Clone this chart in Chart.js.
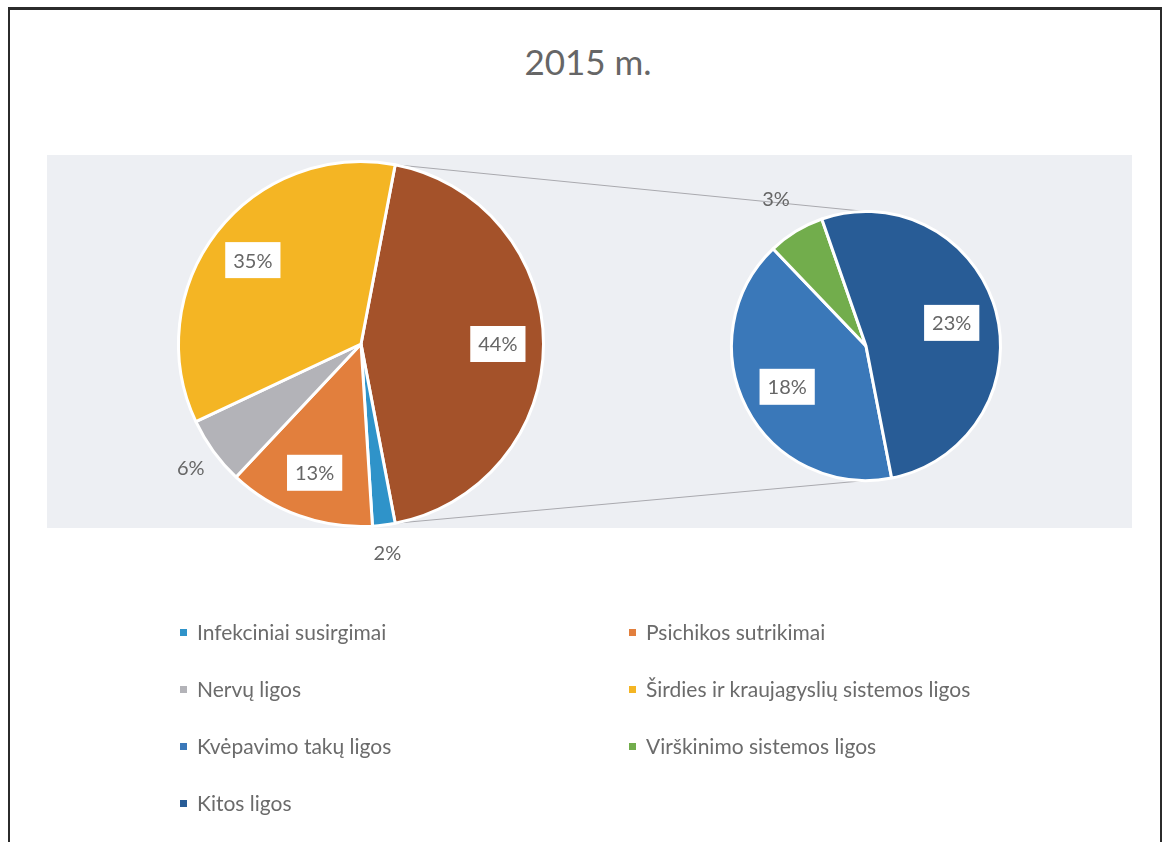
<!DOCTYPE html>
<html>
<head>
<meta charset="utf-8">
<script src="https://cdn.jsdelivr.net/npm/chart.js@4/dist/chart.umd.min.js"></script>
<style>
  body { margin: 0; background: #fff; width: 1164px; height: 842px; overflow: hidden; position: relative; font-family: Lato, "Open Sans", sans-serif; }
  #frame { position: absolute; left: 8px; top: 7px; width: 1150px; height: 860px; border: 2px solid #2b2b2b; border-top-width: 3px; }
  #band { position: absolute; left: 47px; top: 155px; width: 1085px; height: 373px; background: #edeff3; }
  #title { position: absolute; left: 0; width: 1176px; top: 40px; text-align: center; font-size: 35px; color: #666; }
  canvas { position: absolute; }
  #legend { position: absolute; left: 0; top: 0; }
  .item { position: absolute; font-size: 21px; color: #6b6b6b; white-space: nowrap; line-height: 24px; }
  .item i { display: inline-block; width: 7px; height: 7px; margin-right: 10px; vertical-align: 4px; }
</style>
</head>
<body>
<div id="frame"></div>
<div id="band"></div>
<div id="title">2015 m.</div>
<canvas id="lines" width="1164" height="842" style="left:0;top:0"></canvas>
<canvas id="mainPie" width="480" height="480" style="left:121px;top:104px"></canvas>
<canvas id="subPie" width="360" height="360" style="left:686px;top:166px"></canvas>
<div id="legend"></div>
<script>
// main pie categories (%)
const mainLabels = ['Infekciniai susirgimai', 'Psichikos sutrikimai', 'Nervų ligos', 'Širdies ir kraujagyslių sistemos ligos'];
const mainValues = [2, 13, 6, 35];
const mainColors = ['#2f93c9', '#e27f3d', '#b3b3b8', '#f4b524'];

// secondary pie (split of the brown slice)
const subLabels = ['Kvėpavimo takų ligos', 'Virškinimo sistemos ligos', 'Kitos ligos'];
const subValues = [18, 3, 23];
const subColors = ['#3a78b9', '#72ad4c', '#285c96'];
const otherColor = '#a4522a';

const otherValue = subValues.reduce((a, b) => a + b, 0); // 44

// percentage labels, boxed when inside the slice
const pctLabels = {
  id: 'pctLabels',
  afterDatasetsDraw(chart, args, opts) {
    const ctx = chart.ctx;
    const meta = chart.getDatasetMeta(0);
    const vals = chart.data.datasets[0].data;
    ctx.save();
    ctx.font = '20px Lato';
    ctx.textAlign = 'center';
    ctx.textBaseline = 'middle';
    meta.data.forEach((arc, i) => {
      const mid = (arc.startAngle + arc.endAngle) / 2 + (opts.shift || 0);
      const r = arc.outerRadius;
      const inside = vals[i] >= 10;
      const d = inside ? r * opts.inFrac : r + opts.outGap;
      const x = arc.x + Math.cos(mid) * d;
      const y = arc.y + Math.sin(mid) * d;
      const txt = vals[i] + '%';
      if (inside) {
        const w = ctx.measureText(txt).width + 16;
        ctx.fillStyle = '#fff';
        ctx.fillRect(x - w / 2, y - 18, w, 36);
      }
      ctx.fillStyle = '#666';
      ctx.fillText(txt, x, y + 1);
    });
    ctx.restore();
  }
};

function pieOptions(rotation, pad, inFrac, outGap) {
  return {
    responsive: false,
    animation: false,
    rotation: rotation,
    layout: { padding: pad },
    plugins: {
      legend: { display: false },
      tooltip: { enabled: false },
      pctLabels: { inFrac: inFrac, outGap: outGap }
    }
  };
}

const mainChart = new Chart(document.getElementById('mainPie'), {
  type: 'pie',
  data: {
    labels: ['Kitos', ...mainLabels],
    datasets: [{
      data: [otherValue, ...mainValues],
      backgroundColor: [otherColor, ...mainColors],
      borderColor: '#fff',
      borderWidth: 3
    }]
  },
  options: pieOptions(90 - otherValue * 1.8, 56, 0.75, 28),
  plugins: [pctLabels]
});

const subChart = new Chart(document.getElementById('subPie'), {
  type: 'pie',
  data: {
    labels: subLabels,
    datasets: [{
      data: subValues,
      backgroundColor: subColors,
      borderColor: '#fff',
      borderWidth: 3
    }]
  },
  options: pieOptions(169, 44, 0.66, 38),
  plugins: [pctLabels]
});

// connector lines between brown slice and secondary pie
(function drawConnectors() {
  const ctx = document.getElementById('lines').getContext('2d');
  const a = mainChart.getDatasetMeta(0).data[0];
  const b = subChart.getDatasetMeta(0).data[0];
  const mc = mainChart.canvas, sc = subChart.canvas;
  const mx = mc.offsetLeft + a.x, my = mc.offsetTop + a.y;
  const sx = sc.offsetLeft + b.x, sy = sc.offsetTop + b.y;
  const p1 = [mx + Math.cos(a.startAngle) * a.outerRadius, my + Math.sin(a.startAngle) * a.outerRadius];
  const p2 = [mx + Math.cos(a.endAngle) * a.outerRadius, my + Math.sin(a.endAngle) * a.outerRadius];
  ctx.strokeStyle = '#a9a9ae';
  ctx.lineWidth = 1;
  ctx.beginPath();
  ctx.moveTo(p1[0], p1[1]); ctx.lineTo(sx, sy - b.outerRadius);
  ctx.moveTo(p2[0], p2[1]); ctx.lineTo(sx, sy + b.outerRadius);
  ctx.stroke();
})();

// legend in two columns
const legendItems = [];
mainLabels.forEach((l, i) => legendItems.push([l, mainColors[i]]));
subLabels.forEach((l, i) => legendItems.push([l, subColors[i]]));
const legend = document.getElementById('legend');
legendItems.forEach((it, i) => {
  const el = document.createElement('div');
  el.className = 'item';
  el.style.left = (i % 2 === 0 ? 180 : 629) + 'px';
  el.style.top = (620 + Math.floor(i / 2) * 57) + 'px';
  el.innerHTML = '<i style="background:' + it[1] + '"></i>' + it[0];
  legend.appendChild(el);
});
</script>
</body>
</html>
